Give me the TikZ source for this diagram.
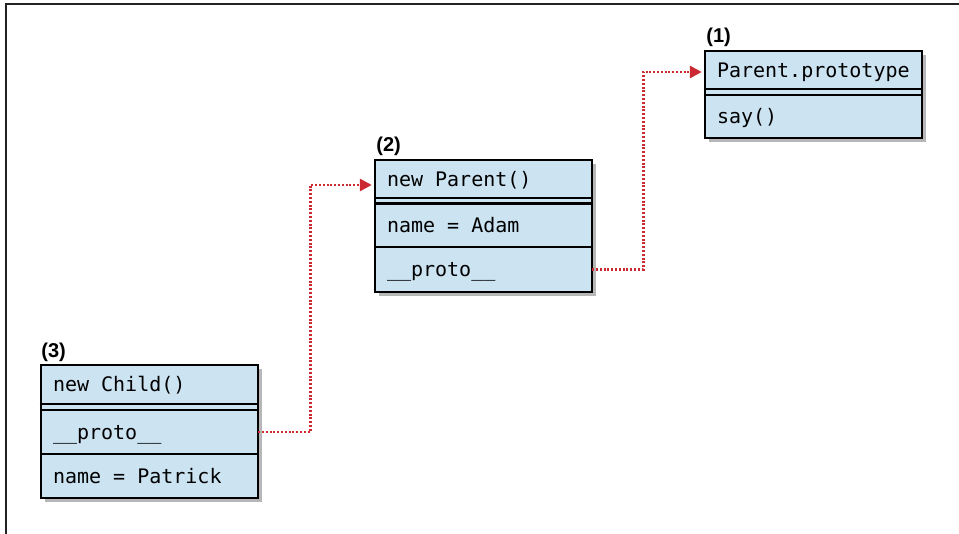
\documentclass[tikz,border=0pt]{standalone}
\usepackage{fontspec}
\newfontfamily\codefont{DejaVu Sans Mono}
\newfontfamily\lblfont{Liberation Sans}
\usetikzlibrary{arrows.meta,shadows,calc}
\definecolor{boxfill}{HTML}{CCE3F2}
\definecolor{linkred}{HTML}{CC2A33}
\definecolor{framegray}{HTML}{222222}
\newcommand\msp{\hspace*{0.602em}}
\tikzset{
  objbox/.style={draw=black, line width=2.8pt, fill=boxfill, minimum width=217pt, inner sep=0pt,
    drop shadow={shadow xshift=3.5pt, shadow yshift=-4pt, opacity=0.4, fill=black!70}},
  rowtext/.style={inner xsep=12pt, inner ysep=0pt, text width=193pt, align=left,
    font=\codefont\fontsize{20}{22}\selectfont, text height=17pt, text depth=2pt},
  sepline/.style={line width=2.5pt, black},
  link/.style={linkred, line width=2.9pt, dash pattern=on 2pt off 1.8pt,
    -{Triangle[length=12pt,width=12pt]}, shorten >=3pt},
  lbl/.style={font=\lblfont\bfseries\fontsize{20}{22}\selectfont, inner sep=0pt}
}
\begin{document}
\begin{tikzpicture}[x=1pt,y=-1pt]
\useasboundingbox (0,0) rectangle (959,534);
\draw[framegray, line width=1.3pt] (6,534) -- (6,4) -- (959,4);

% box (1)
\node[objbox, minimum height=87pt] (box1) at (813.5,94.5) {};
\node[rowtext, minimum height=38pt] (b1a) at (813.5,70) {Parent.prototype};
\node[rowtext, minimum height=43pt] (b1b) at (813.5,116.5) {say()};
\draw[sepline] (box1.west |- 0,89) -- (box1.east |- 0,89);
\draw[sepline] (box1.west |- 0,95) -- (box1.east |- 0,95);
\node[lbl] (l1) at ($(box1.north west)+(15,-12)$) {(1)};

% box (2)
\node[objbox, minimum height=132pt] (box2) at (483.5,226) {};
\node[rowtext, minimum height=38pt] (b2a) at (483.5,179) {new\msp Parent()};
\node[rowtext, minimum height=44pt] (b2b) at (483.5,225) {name\msp =\msp Adam};
\node[rowtext, minimum height=45pt] (b2c) at (483.5,269.5) {\_\_proto\_\_};
\draw[sepline] (box2.west |- 0,198) -- (box2.east |- 0,198);
\draw[sepline] (box2.west |- 0,203.5) -- (box2.east |- 0,203.5);
\draw[sepline] (box2.west |- 0,247) -- (box2.east |- 0,247);
\node[lbl] (l2) at ($(box2.north west)+(15,-12)$) {(2)};

% box (3)
\node[objbox, minimum height=133pt] (box3) at (149.5,431.5) {};
\node[rowtext, minimum height=39pt] (b3a) at (149.5,384.5) {new\msp Child()};
\node[rowtext, minimum height=44pt] (b3b) at (149.5,432) {\_\_proto\_\_};
\node[rowtext, minimum height=44pt] (b3c) at (149.5,476) {name\msp =\msp Patrick};
\draw[sepline] (box3.west |- 0,404) -- (box3.east |- 0,404);
\draw[sepline] (box3.west |- 0,410) -- (box3.east |- 0,410);
\draw[sepline] (box3.west |- 0,454) -- (box3.east |- 0,454);
\node[lbl] (l3) at ($(box3.north west)+(14,-11)$) {(3)};

% links
\coordinate (t2) at ($(b2a.west)+(0,6)$);
\coordinate (t1) at ($(b1a.west)+(0,2)$);
\draw[link] (b3b.east) -- ++(52,0) |- (t2);
\draw[link] (b2c.east) -- ++(51,0) |- (t1);
\end{tikzpicture}
\end{document}
